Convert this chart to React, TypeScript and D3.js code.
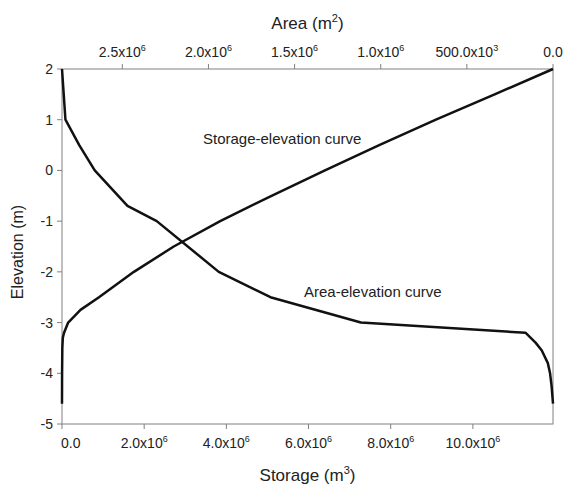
import React from 'react';
import * as d3 from 'd3';

// elevation (m) vs storage (m3)
const storageElev = [2, 1.5, 1, 0.5, 0, -0.5, -1, -1.5, -2, -2.5, -2.75, -3, -3.2, -3.3, -3.5, -4, -4.6];
const storageVals = [11.95e6, 10.53e6, 9.1e6, 7.72e6, 6.4e6, 5.1e6, 3.85e6, 2.72e6, 1.75e6, 0.9e6, 0.45e6, 0.15e6, 0.05e6, 0.02e6, 0.008e6, 0.002e6, 0];

// elevation (m) vs area (m2)
const areaElev = [2, 1, 0.5, 0, -0.7, -1, -2, -2.5, -3, -3.2, -3.4, -3.55, -3.8, -4.0, -4.26, -4.6];
const areaVals = [2.85e6, 2.83e6, 2.75e6, 2.66e6, 2.47e6, 2.3e6, 1.94e6, 1.64e6, 1.115e6, 0.16e6, 0.1e6, 0.065e6, 0.03e6, 0.017e6, 0.008e6, 0];

const elevTicks = [-5, -4, -3, -2, -1, 0, 1, 2];
const storageTicks = [0, 2e6, 4e6, 6e6, 8e6, 10e6];
const areaTicks = [2.5e6, 2.0e6, 1.5e6, 1.0e6, 0.5e6, 0];

const W = 563;
const H = 484;
const m = { left: 62, right: 10, top: 69, bottom: 60 };
const font = '"Liberation Sans", Arial, sans-serif';
const axisColor = '#808080';
const textColor = '#222';

const fmt = (v: number) => {
  if (v === 0) return { base: '0.0', exp: '' };
  if (v >= 1e6) return { base: (v / 1e6).toFixed(1) + 'x10', exp: '6' };
  return { base: (v / 1e3).toFixed(1) + 'x10', exp: '3' };
};

const TickLabel = ({ x, y, v, anchor = 'middle' }: { x: number; y: number; v: number; anchor?: string }) => {
  const f = fmt(v);
  return (
    <text x={x} y={y} textAnchor={anchor} fontSize={14} fill={textColor} fontFamily={font}>
      {f.base}
      {f.exp && (
        <tspan fontSize={9} dy={-6}>
          {f.exp}
        </tspan>
      )}
    </text>
  );
};

export default function App() {
  const x0 = m.left;
  const x1 = W - m.right;
  const y0 = m.top;
  const y1 = H - m.bottom;

  const y = d3.scaleLinear().domain([-5, 2]).range([y1, y0]);
  const xs = d3.scaleLinear().domain([0, 11.95e6]).range([x0, x1]);
  const xa = d3.scaleLinear().domain([2.85e6, 0]).range([x0, x1]);

  const storageLine = d3
    .line<number>()
    .x((d, i) => xs(storageVals[i]))
    .y(d => y(d));
  const areaLine = d3
    .line<number>()
    .x((d, i) => xa(areaVals[i]))
    .y(d => y(d));

  return (
    <svg width={W} height={H} style={{ position: 'absolute', left: 0, top: 0 }}>
      <rect width={W} height={H} fill="#fff" />

      {/* frame */}
      <rect x={x0} y={y0} width={x1 - x0} height={y1 - y0} fill="none" stroke={axisColor} strokeWidth={1} />

      {/* left axis */}
      {elevTicks.map(t => (
        <g key={'e' + t}>
          <line x1={x0 - 5} x2={x0} y1={y(t)} y2={y(t)} stroke={axisColor} />
          <text x={x0 - 9} y={y(t) + 5} textAnchor="end" fontSize={14} fill={textColor} fontFamily={font}>
            {t}
          </text>
        </g>
      ))}

      {/* bottom axis */}
      {storageTicks.map(t => (
        <g key={'s' + t}>
          <line x1={xs(t)} x2={xs(t)} y1={y1} y2={y1 + 5} stroke={axisColor} />
          {t === 0 ? (
            <TickLabel x={xs(t) - 1} y={y1 + 24} v={t} anchor="start" />
          ) : (
            <TickLabel x={xs(t)} y={y1 + 24} v={t} />
          )}
        </g>
      ))}

      {/* top axis */}
      {areaTicks.map(t => (
        <g key={'a' + t}>
          <line x1={xa(t)} x2={xa(t)} y1={y0 - 5} y2={y0} stroke={axisColor} />
          <TickLabel x={xa(t)} y={y0 - 12} v={t} />
        </g>
      ))}

      {/* curves */}
      <path d={storageLine(storageElev) || ''} fill="none" stroke="#111" strokeWidth={2.5} strokeLinejoin="round" />
      <path d={areaLine(areaElev) || ''} fill="none" stroke="#111" strokeWidth={2.5} strokeLinejoin="round" />

      <text x={203} y={144} fontSize={15} fill={textColor} fontFamily={font}>
        Storage-elevation curve
      </text>
      <text x={304} y={297} fontSize={15} fill={textColor} fontFamily={font}>
        Area-elevation curve
      </text>

      {/* axis titles */}
      <text x={(x0 + x1) / 2} y={29} textAnchor="middle" fontSize={17} fill={textColor} fontFamily={font}>
        Area (m<tspan fontSize={11} dy={-7}>2</tspan>
        <tspan dy={7}>)</tspan>
      </text>
      <text x={(x0 + x1) / 2} y={481} textAnchor="middle" fontSize={17} fill={textColor} fontFamily={font}>
        Storage (m<tspan fontSize={11} dy={-7}>3</tspan>
        <tspan dy={7}>)</tspan>
      </text>
      <text
        transform={`translate(23,252) rotate(-90)`}
        textAnchor="middle"
        fontSize={16}
        fill={textColor}
        fontFamily={font}
      >
        Elevation (m)
      </text>
    </svg>
  );
}
